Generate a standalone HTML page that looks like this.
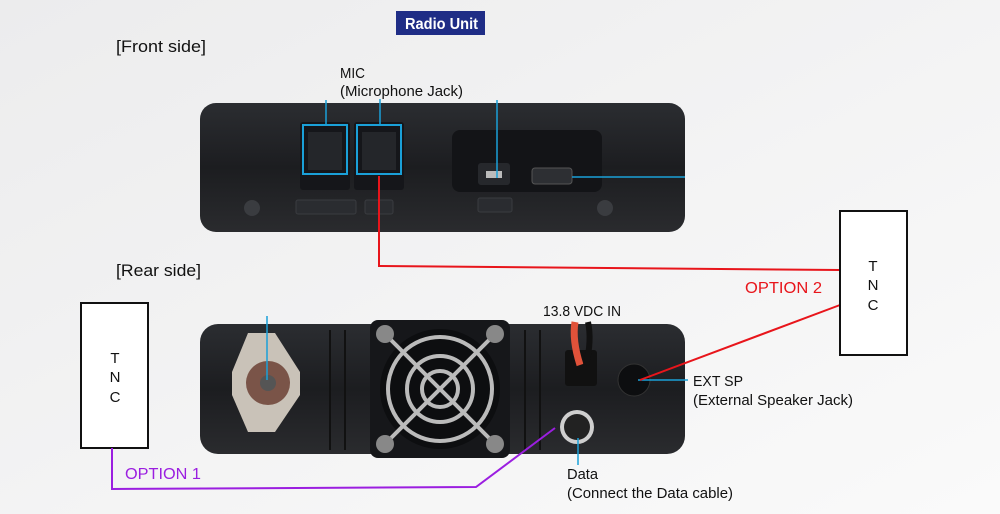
<!DOCTYPE html>
<html><head><meta charset="utf-8"><style>
html,body{margin:0;padding:0;width:1000px;height:514px;overflow:hidden;background:#f2f2f3}
svg{display:block}
text{font-family:"Liberation Sans",Arial,sans-serif}
</style></head><body>
<svg width="1000" height="514" viewBox="0 0 1000 514" xmlns="http://www.w3.org/2000/svg">
<defs>
<linearGradient id="bg" x1="0" y1="0" x2="1" y2="1"><stop offset="0" stop-color="#ececed"/><stop offset="1" stop-color="#fafafa"/></linearGradient>
<linearGradient id="body" x1="0" y1="0" x2="0" y2="1"><stop offset="0" stop-color="#2b2d31"/><stop offset="0.5" stop-color="#1c1d20"/><stop offset="1" stop-color="#2a2b2e"/></linearGradient>
</defs>
<rect width="1000" height="514" fill="url(#bg)"/>
<!-- title -->
<rect x="396" y="11" width="89" height="24" fill="#1f2d86"/>
<text x="405" y="29" font-size="16" font-weight="bold" fill="#fff" textLength="73" lengthAdjust="spacingAndGlyphs">Radio Unit</text>
<text x="116" y="52" font-size="17" fill="#111" textLength="90" lengthAdjust="spacingAndGlyphs">[Front side]</text>
<text x="340" y="78" font-size="15" fill="#111" textLength="25" lengthAdjust="spacingAndGlyphs">MIC</text>
<text x="340" y="96" font-size="15" fill="#111" textLength="123" lengthAdjust="spacingAndGlyphs">(Microphone Jack)</text>
<!-- front unit -->
<rect x="200" y="103" width="485" height="129" rx="16" fill="url(#body)"/>
<rect x="300" y="122" width="50" height="68" rx="3" fill="#15161a"/>
<rect x="354" y="122" width="50" height="68" rx="3" fill="#15161a"/>
<rect x="308" y="132" width="34" height="38" fill="#24262a"/>
<rect x="362" y="132" width="34" height="38" fill="#24262a"/>
<rect x="452" y="130" width="150" height="62" rx="8" fill="#131417"/>
<rect x="478" y="163" width="32" height="22" rx="3" fill="#26282c"/>
<rect x="486" y="171" width="16" height="7" fill="#bbb"/>
<rect x="532" y="168" width="40" height="16" rx="3" fill="#2d2f33" stroke="#555"/>
<rect x="296" y="200" width="60" height="14" rx="2" fill="#2a2c30" stroke="#3a3c40"/>
<rect x="365" y="200" width="28" height="14" rx="2" fill="#2a2c30" stroke="#3a3c40"/>
<rect x="478" y="198" width="34" height="14" rx="2" fill="#2a2c30" stroke="#3a3c40"/>
<circle cx="252" cy="208" r="8" fill="#3a3c40"/><circle cx="605" cy="208" r="8" fill="#3a3c40"/>
<rect x="303" y="125" width="44" height="49" fill="none" stroke="#1aa0d8" stroke-width="2"/>
<rect x="357" y="125" width="44" height="49" fill="none" stroke="#1aa0d8" stroke-width="2"/>
<g stroke="#1aa0d8" stroke-width="1.5" fill="none">
<line x1="326" y1="100" x2="326" y2="125"/>
<line x1="380" y1="99" x2="380" y2="125"/>
<line x1="497" y1="100" x2="497" y2="178"/>
<line x1="572" y1="177" x2="685" y2="177"/>
</g>
<!-- rear -->
<text x="116" y="276" font-size="17" fill="#111" textLength="85" lengthAdjust="spacingAndGlyphs">[Rear side]</text>
<text x="543" y="316" font-size="15" fill="#111" textLength="78" lengthAdjust="spacingAndGlyphs">13.8 VDC IN</text>
<rect x="200" y="324" width="485" height="130" rx="18" fill="url(#body)"/>
<g stroke="#111" stroke-width="2"><line x1="330" y1="330" x2="330" y2="450"/><line x1="345" y1="330" x2="345" y2="450"/><line x1="525" y1="330" x2="525" y2="450"/><line x1="540" y1="330" x2="540" y2="450"/></g>
<polygon points="248,333 275,333 300,372 300,395 275,432 248,432 232,395 232,372" fill="#c9c2b8"/>
<circle cx="268" cy="383" r="22" fill="#7a5448"/><circle cx="268" cy="383" r="8" fill="#555"/>
<rect x="370" y="320" width="140" height="138" rx="8" fill="#16171a"/>
<circle cx="440" cy="389" r="60" fill="#0d0e10"/>
<g stroke="#bbb" stroke-width="4" fill="none"><circle cx="440" cy="389" r="52"/><circle cx="440" cy="389" r="33"/><circle cx="440" cy="389" r="18"/>
<line x1="385" y1="334" x2="495" y2="444"/><line x1="495" y1="334" x2="385" y2="444"/></g>
<g fill="#888"><circle cx="385" cy="334" r="9"/><circle cx="495" cy="334" r="9"/><circle cx="385" cy="444" r="9"/><circle cx="495" cy="444" r="9"/></g>
<rect x="565" y="350" width="32" height="36" rx="3" fill="#111"/>
<path d="M575 322 Q572 340 580 365" stroke="#e0523a" stroke-width="7" fill="none"/>
<path d="M588 322 Q592 340 586 365" stroke="#111" stroke-width="6" fill="none"/>
<circle cx="634" cy="380" r="16" fill="#0d0e10" stroke="#333"/>
<circle cx="577" cy="427" r="17" fill="#cfcfcf"/><circle cx="577" cy="427" r="13" fill="#222"/>
<g stroke="#1aa0d8" stroke-width="1.5"><line x1="267" y1="316" x2="267" y2="380"/><line x1="638" y1="380" x2="688" y2="380"/><line x1="578" y1="438" x2="578" y2="465"/></g>
<text x="693" y="386" font-size="15" fill="#111" textLength="50" lengthAdjust="spacingAndGlyphs">EXT SP</text>
<text x="693" y="405" font-size="15" fill="#111" textLength="160" lengthAdjust="spacingAndGlyphs">(External Speaker Jack)</text>
<text x="567" y="479" font-size="15" fill="#111" textLength="31" lengthAdjust="spacingAndGlyphs">Data</text>
<text x="567" y="498" font-size="15" fill="#111" textLength="166" lengthAdjust="spacingAndGlyphs">(Connect the Data cable)</text>
<!-- red option 2 -->
<polyline points="379,176 379,266 840,270" fill="none" stroke="#e8151b" stroke-width="2"/>
<line x1="840" y1="305" x2="640" y2="380" stroke="#e8151b" stroke-width="2"/>
<text x="745" y="293" font-size="16" fill="#e8151b" textLength="77" lengthAdjust="spacingAndGlyphs">OPTION 2</text>
<rect x="840" y="211" width="67" height="144" fill="#fff" stroke="#111" stroke-width="2"/>
<text x="873" y="271" font-size="15" fill="#111" text-anchor="middle">T</text>
<text x="873" y="290" font-size="15" fill="#111" text-anchor="middle">N</text>
<text x="873" y="310" font-size="15" fill="#111" text-anchor="middle">C</text>
<!-- left TNC -->
<rect x="81" y="303" width="67" height="145" fill="#fff" stroke="#111" stroke-width="2"/>
<text x="115" y="363" font-size="15" fill="#111" text-anchor="middle">T</text>
<text x="115" y="382" font-size="15" fill="#111" text-anchor="middle">N</text>
<text x="115" y="402" font-size="15" fill="#111" text-anchor="middle">C</text>
<polyline points="112,448 112,489 476,487 555,428" fill="none" stroke="#9b1ee0" stroke-width="2"/>
<text x="125" y="479" font-size="16" fill="#9b1ee0" textLength="76" lengthAdjust="spacingAndGlyphs">OPTION 1</text>
</svg>
</body></html>
